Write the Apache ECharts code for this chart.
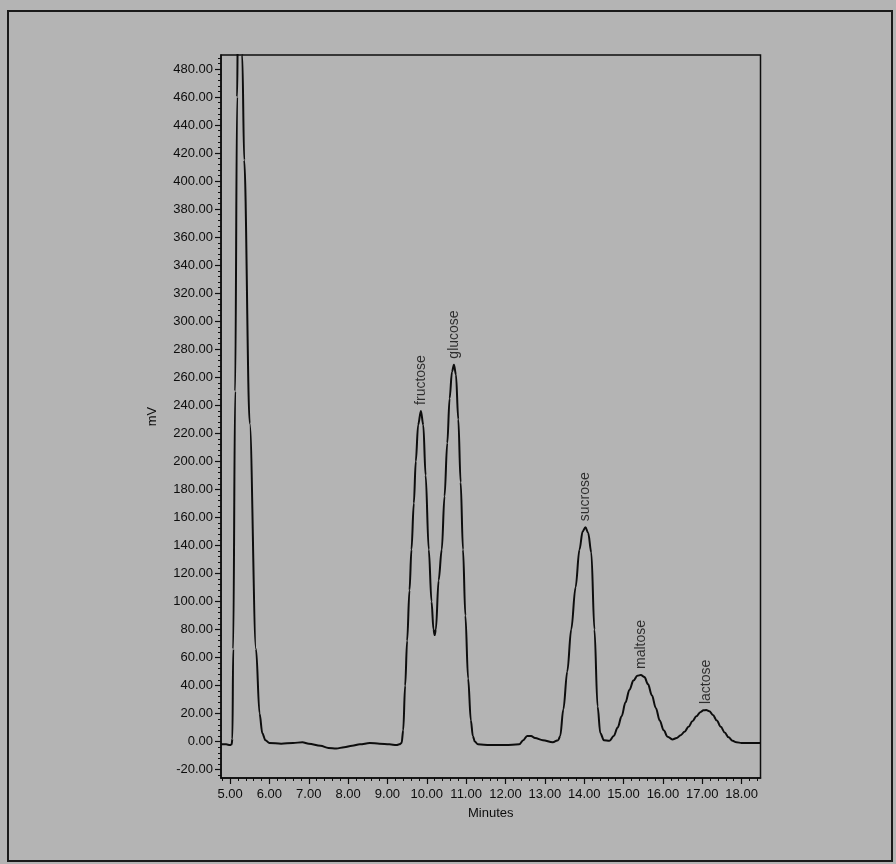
<!DOCTYPE html>
<html>
<head>
<meta charset="utf-8">
<script src="https://cdn.jsdelivr.net/npm/echarts@6/dist/echarts.min.js"></script>
<style>
  html, body { margin: 0; padding: 0; background: #b4b4b4; }
  #chart { width: 896px; height: 864px; }
</style>
</head>
<body>
<div id="chart"></div>
<script>
// Chromatogram trace: retention time (minutes) and detector signal (mV)
const times = [
  4.77, 4.90, 5.00, 5.04, 5.06, 5.08, 5.13, 5.18, 5.20, 5.25, 5.31, 5.36, 5.50, 5.66, 5.75, 5.82, 5.90,
  6.00, 6.30, 6.60, 6.84, 7.00, 7.30, 7.50, 7.70, 7.90, 8.10, 8.30, 8.55, 8.80, 9.05, 9.23, 9.30, 9.36,
  9.40, 9.45, 9.50, 9.56, 9.61, 9.67, 9.72, 9.78, 9.85, 9.91, 9.97, 10.05, 10.12, 10.17, 10.20, 10.23,
  10.30, 10.38, 10.45, 10.52, 10.58, 10.64, 10.69, 10.74, 10.80, 10.86, 10.92, 10.98, 11.05, 11.12,
  11.17, 11.22, 11.30, 11.60, 12.00, 12.35, 12.45, 12.55, 12.65, 12.75, 12.95, 13.20, 13.34, 13.39,
  13.47, 13.57, 13.67, 13.78, 13.88, 13.96, 14.03, 14.10, 14.18, 14.26, 14.34, 14.41, 14.50, 14.64,
  14.75, 14.85, 14.95, 15.05, 15.15, 15.25, 15.35, 15.44, 15.53, 15.62, 15.72, 15.82, 15.92, 16.02,
  16.12, 16.24, 16.35, 16.45, 16.55, 16.65, 16.75, 16.85, 16.95, 17.03, 17.10, 17.18, 17.27, 17.37,
  17.47, 17.57, 17.67, 17.77, 17.87, 18.00, 18.20, 18.48
];
const signal = [
  -2, -2, -2.5, -2, 2, 66, 250, 460, 520, 560, 490, 415, 227, 66, 20, 6, 1,
  -1, -1.5, -1, -0.5, -1.5, -3, -4.5, -5, -4, -3, -2, -1, -1.5, -2, -2.5, -2, -1,
  8, 40, 72, 108, 137, 170, 200, 226, 236, 226, 190, 137, 100, 80, 76, 80,
  115, 137, 175, 213, 245, 264, 269, 262, 230, 185, 137, 90, 45, 15,
  4, 0, -2, -2.5, -2.5, -2, 1, 4, 4, 2.5, 1, -0.5, 1, 4,
  23, 50, 80, 110, 137, 150, 153, 149, 135, 80, 25, 6, 1, 0.5,
  4, 10, 18, 28, 37, 43.5, 47, 47.5, 46, 41, 33, 24, 15, 8,
  3.5, 1.5, 2.5, 4.5, 7, 10.5, 14.5, 18, 21, 22.3, 22.5, 21.7, 19, 15,
  10.5, 6.5, 3, 0.5, -0.5, -1, -1, -1
];

// Peak annotations
const peakNames = ["fructose", "glucose", "sucrose", "maltose", "lactose"];
const peakTimes = [9.85, 10.69, 14.03, 15.44, 17.10];
const peakValues = [236, 269, 153, 47.5, 22.5];

// Axis ticks
const xTicks = [5, 6, 7, 8, 9, 10, 11, 12, 13, 14, 15, 16, 17, 18];
const yTicks = [-20, 0, 20, 40, 60, 80, 100, 120, 140, 160, 180, 200, 220, 240, 260, 280, 300, 320, 340, 360, 380, 400, 420, 440, 460, 480];
const xMinor = [];
for (let v = 4.8; v <= 18.48; v += 0.2) xMinor.push(Math.round(v * 10) / 10);
const yMinor = [];
for (let v = -24; v <= 490; v += 4) yMinor.push(v);

const X_MIN = 4.77, X_MAX = 18.48, Y_MIN = -26, Y_MAX = 490;
const FONT = '"Liberation Sans", Arial, sans-serif';
const INK = '#0d0d0d';

const chart = echarts.init(document.getElementById('chart'), null, { renderer: 'canvas' });
chart.setOption({
  backgroundColor: '#b4b4b4',
  animation: false,
  textStyle: { fontFamily: FONT, color: INK },
  graphic: [{
    type: 'rect',
    shape: { x: 8, y: 11, width: 884, height: 850 },
    style: { fill: 'none', stroke: '#1a1a1a', lineWidth: 2 },
    silent: true
  }],
  grid: {
    left: 221, top: 55, right: 135.5, bottom: 86,
    show: true, borderColor: INK, borderWidth: 1.5, backgroundColor: 'transparent'
  },
  xAxis: [{
    type: 'value', min: X_MIN, max: X_MAX, position: 'bottom',
    axisLine: { show: true, onZero: false, lineStyle: { color: INK, width: 1.5 } },
    axisTick: { show: true, customValues: xTicks, length: 6, lineStyle: { color: INK, width: 1.2 } },
    axisLabel: { customValues: xTicks, formatter: v => v.toFixed(2), fontSize: 13, color: INK, margin: 10, fontFamily: FONT },
    splitLine: { show: false },
    name: 'Minutes', nameLocation: 'middle', nameGap: 29,
    nameTextStyle: { fontSize: 13, color: INK, fontFamily: FONT }
  }, {
    type: 'value', min: X_MIN, max: X_MAX, position: 'bottom',
    axisLine: { show: false, onZero: false },
    axisTick: { show: true, customValues: xMinor, length: 3, lineStyle: { color: INK } },
    axisLabel: { show: false },
    splitLine: { show: false }
  }],
  yAxis: [{
    type: 'value', min: Y_MIN, max: Y_MAX, position: 'left',
    axisLine: { show: true, onZero: false, lineStyle: { color: INK, width: 1.5 } },
    axisTick: { show: true, customValues: yTicks, length: 6, lineStyle: { color: INK, width: 1.2 } },
    axisLabel: { customValues: yTicks, formatter: v => v.toFixed(2), fontSize: 13, color: INK, margin: 8, fontFamily: FONT },
    splitLine: { show: false },
    name: 'mV', nameLocation: 'middle', nameGap: 62, nameRotate: 90,
    nameTextStyle: { fontSize: 13, color: INK, fontFamily: FONT }
  }, {
    type: 'value', min: Y_MIN, max: Y_MAX, position: 'left',
    axisLine: { show: false, onZero: false },
    axisTick: { show: true, customValues: yMinor, length: 3, lineStyle: { color: INK } },
    axisLabel: { show: false },
    splitLine: { show: false }
  }],
  series: [{
    type: 'line',
    xAxisIndex: 0, yAxisIndex: 0,
    data: times.map((t, i) => [t, signal[i]]),
    showSymbol: false,
    smooth: 0.35,
    smoothMonotone: 'x',
    clip: true,
    lineStyle: { color: INK, width: 2 },
    silent: true
  }, {
    type: 'scatter',
    xAxisIndex: 0, yAxisIndex: 0,
    data: peakTimes.map((t, i) => [t, peakValues[i], peakNames[i]]),
    symbolSize: 0,
    silent: true,
    label: {
      show: true, position: 'top', distance: 6, rotate: 90,
      align: 'left', verticalAlign: 'middle',
      formatter: p => p.data[2],
      fontSize: 14, color: INK, fontFamily: FONT
    }
  }]
});
</script>
</body>
</html>
